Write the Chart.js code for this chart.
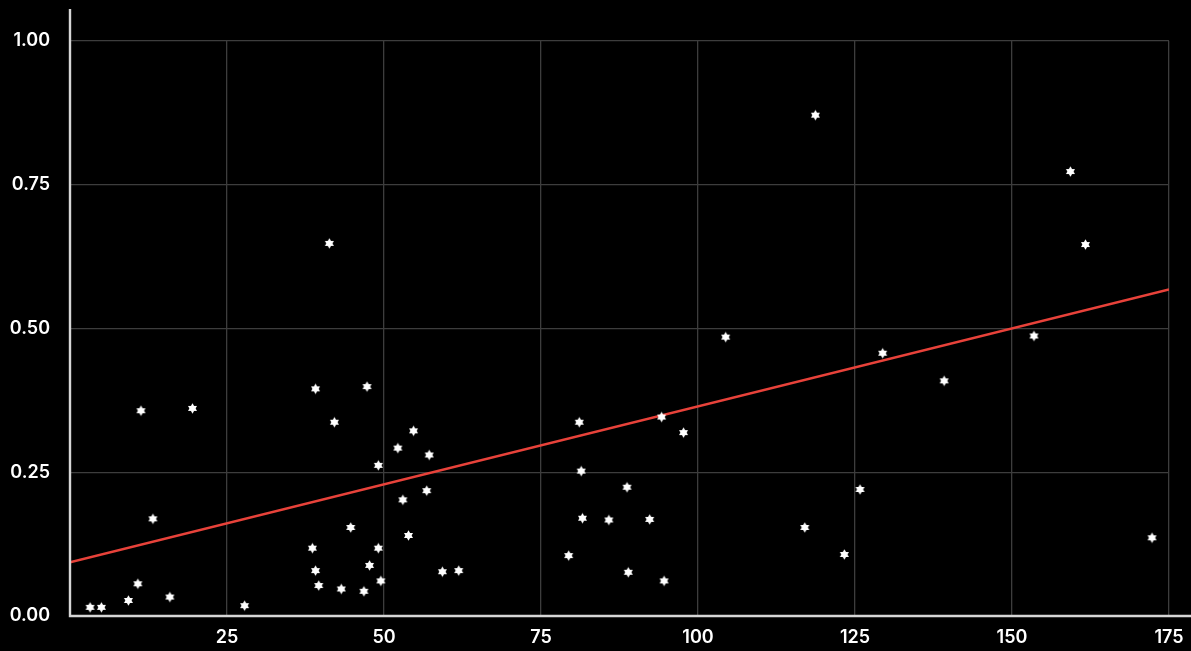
<!DOCTYPE html>
<html>
<head>
<meta charset="utf-8">
<script src="https://cdn.jsdelivr.net/npm/chart.js@4/dist/chart.umd.min.js"></script>
<style>
  html, body { margin: 0; padding: 0; background: #000; }
  #wrap { width: 1191px; height: 651px; position: relative; }
</style>
</head>
<body>
<div id="wrap"><canvas id="chart"></canvas></div>
<script>
// Observations: x value and rate for each sample
const xValues = [
  3.2, 5.0, 9.3, 10.8, 11.3, 13.2, 15.9, 19.5, 27.8,
  38.6, 39.1, 39.1, 39.6, 41.3, 42.1, 43.2, 44.7, 46.8, 47.3, 47.7,
  49.1, 49.1, 49.5, 52.2, 53.0, 53.9, 54.7, 56.8, 57.2, 59.3, 61.9,
  79.4, 81.1, 81.4, 81.6, 85.8, 88.7, 88.9, 92.3, 94.2, 94.6, 97.7,
  104.4, 117.0, 118.7, 123.3, 125.8, 129.4, 139.2, 153.5, 159.3, 161.7, 172.3
];
const yValues = [
  0.015, 0.015, 0.027, 0.056, 0.357, 0.169, 0.033, 0.361, 0.018,
  0.118, 0.395, 0.079, 0.053, 0.648, 0.337, 0.047, 0.154, 0.043, 0.399, 0.088,
  0.118, 0.262, 0.061, 0.292, 0.202, 0.140, 0.322, 0.218, 0.280, 0.077, 0.079,
  0.105, 0.337, 0.252, 0.170, 0.167, 0.224, 0.076, 0.168, 0.346, 0.061, 0.319,
  0.485, 0.154, 0.871, 0.107, 0.220, 0.457, 0.409, 0.487, 0.773, 0.646, 0.136
];

// Fitted trend line endpoints
const trendX = [0, 175];
const trendY = [0.0935, 0.568];

// Axis ticks
const xTicks = [0, 25, 50, 75, 100, 125, 150, 175];
const yTicks = [0, 0.25, 0.5, 0.75, 1.0];

// Six-pointed star marker
function makeStar(r) {
  const size = Math.ceil(r * 2 + 2);
  const c = document.createElement('canvas');
  c.width = size; c.height = size;
  const g = c.getContext('2d');
  const cx = size / 2, cy = size / 2;
  g.fillStyle = '#ffffff';
  [-Math.PI / 2, Math.PI / 2].forEach(start => {
    g.beginPath();
    for (let i = 0; i < 3; i++) {
      const a = start + i * 2 * Math.PI / 3;
      const px = cx + r * Math.cos(a), py = cy + r * Math.sin(a);
      if (i === 0) g.moveTo(px, py); else g.lineTo(px, py);
    }
    g.closePath();
    g.fill();
  });
  return c;
}
const starMarker = makeStar(5.2);

// Extended axis lines beyond the plotting grid
const axisLines = {
  id: 'axisLines',
  afterDraw(chart) {
    const { ctx, width } = chart;
    const x0 = chart.scales.x.getPixelForValue(0);
    const y0 = chart.scales.y.getPixelForValue(0);
    ctx.save();
    ctx.strokeStyle = '#d6d6d6';
    ctx.lineWidth = 2.4;
    ctx.beginPath();
    ctx.moveTo(x0, 9);
    ctx.lineTo(x0, y0 + 1.2);
    ctx.moveTo(x0 - 1.2, y0);
    ctx.lineTo(width, y0);
    ctx.stroke();
    ctx.restore();
  }
};

const tickFont = { family: 'Inter', size: 18, weight: '600' };

new Chart(document.getElementById('chart'), {
  data: {
    datasets: [
      {
        type: 'scatter',
        data: xValues.map((x, i) => ({ x, y: yValues[i] })),
        pointStyle: starMarker,
        order: 0
      },
      {
        type: 'line',
        data: trendX.map((x, i) => ({ x, y: trendY[i] })),
        borderColor: '#e8423a',
        borderWidth: 2.5,
        pointRadius: 0,
        fill: false,
        order: 1
      }
    ]
  },
  options: {
    responsive: true,
    maintainAspectRatio: false,
    animation: false,
    devicePixelRatio: 1,
    layout: { padding: { top: 41, right: 22, left: 0, bottom: 0 } },
    plugins: { legend: { display: false }, tooltip: { enabled: false } },
    scales: {
      x: {
        type: 'linear',
        min: 0,
        max: 175,
        afterBuildTicks: s => { s.ticks = xTicks.map(v => ({ value: v })); },
        afterFit: s => { s.height = 35; s.paddingLeft = 0; s.paddingRight = 0; },
        border: { display: false },
        grid: { color: '#3d3d3d', lineWidth: 1.3, drawTicks: false },
        ticks: {
          color: '#ffffff',
          font: tickFont,
          padding: 11,
          maxRotation: 0,
          callback: v => (v === 0 ? '' : String(v))
        }
      },
      y: {
        type: 'linear',
        min: 0,
        max: 1,
        afterBuildTicks: s => { s.ticks = yTicks.map(v => ({ value: v })); },
        afterFit: s => { s.width = 70; s.paddingTop = 0; s.paddingBottom = 0; },
        border: { display: false },
        grid: { color: '#3d3d3d', lineWidth: 1.3, drawTicks: false },
        ticks: {
          color: '#ffffff',
          font: tickFont,
          padding: 20,
          callback: v => v.toFixed(2)
        }
      }
    }
  },
  plugins: [axisLines]
});
</script>
</body>
</html>
